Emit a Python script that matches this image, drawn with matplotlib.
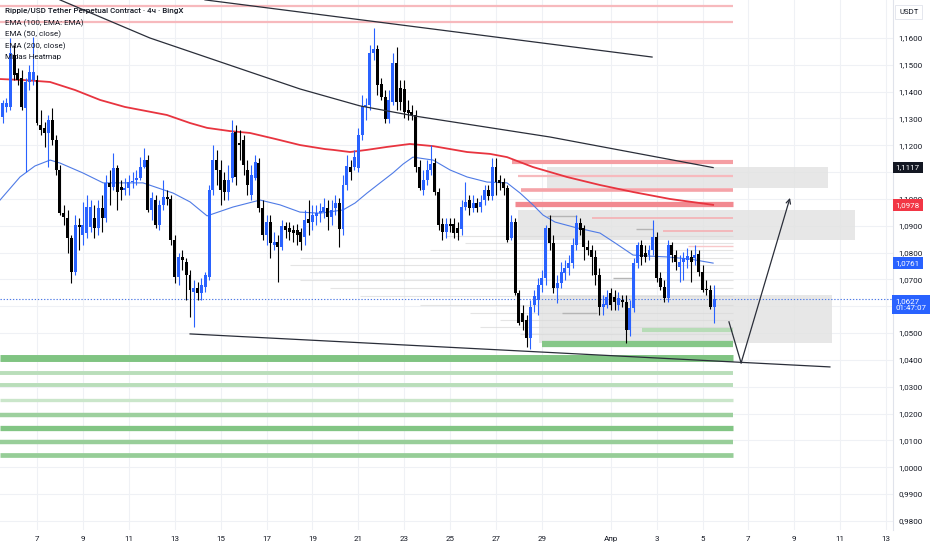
import matplotlib
matplotlib.use("Agg")
import matplotlib.pyplot as plt
import numpy as np
from matplotlib.patches import Rectangle

plt.rcParams['font.family'] = ['Roboto', 'DejaVu Sans']

# ---------------- data ----------------
opens = [1.1306, 1.1343, 1.1343, 1.1537, 1.1470, 1.1451, 1.1339, 1.1436, 1.1443, 1.1443,
         1.1276, 1.1265, 1.1246, 1.1294, 1.1220, 1.1108, 1.0948, 1.0929, 1.0855, 1.0728,
         1.0903, 1.0866, 1.0873, 1.0896, 1.0929, 1.0892, 1.0966, 1.0929, 1.1060, 1.1045,
         1.1115, 1.1045, 1.1033, 1.1041, 1.1063, 1.1071, 1.1078, 1.1119, 1.1145, 1.0959,
         1.0996, 1.0903, 1.0978, 1.1007, 1.1000, 1.0847, 1.0709, 1.0784, 1.0765, 1.0717,
         1.0653, 1.0668, 1.0650, 1.0672, 1.0709, 1.1033, 1.1145, 1.1108, 1.1071, 1.1026,
         1.1078, 1.1250, 1.1209, 1.1220, 1.1108, 1.1015, 1.1078, 1.1134, 1.0966, 1.0866,
         1.0914, 1.0828, 1.0840, 1.0821, 1.0899, 1.0892, 1.0884, 1.0884, 1.0877, 1.0858,
         1.0925, 1.0914, 1.0937, 1.0948, 1.0951, 1.0966, 1.0933, 1.0966, 1.0985, 1.0888,
         1.1052, 1.1119, 1.1119, 1.1115, 1.1238, 1.1343, 1.1350, 1.1544, 1.1559, 1.1429,
         1.1380, 1.1298, 1.1361, 1.1507, 1.1414, 1.1410, 1.1332, 1.1324, 1.1313, 1.1119,
         1.1033, 1.1071, 1.1108, 1.1134, 1.1026, 1.0907, 1.0877, 1.0907, 1.0907, 1.0892,
         1.0888, 1.0970, 1.0996, 1.0966, 1.0985, 1.0970, 1.0996, 1.1033, 1.1011, 1.1119,
         1.1071, 1.1063, 1.1041, 1.0855, 1.0914, 1.0650, 1.0575, 1.0549, 1.0482, 1.0605,
         1.0623, 1.0679, 1.0705, 1.0892, 1.0836, 1.0668, 1.0687, 1.0724, 1.0743, 1.0761,
         1.0828, 1.0910, 1.0892, 1.0821, 1.0810, 1.0784, 1.0717, 1.0597, 1.0605, 1.0650,
         1.0635, 1.0605, 1.0623, 1.0616, 1.0512, 1.0594, 1.0761, 1.0828, 1.0799, 1.0791,
         1.0810, 1.0858, 1.0705, 1.0672, 1.0631, 1.0828, 1.0791, 1.0746, 1.0765, 1.0773,
         1.0784, 1.0780, 1.0795, 1.0728, 1.0664, 1.0661, 1.0597]
highs = [1.1369, 1.1376, 1.1600, 1.1574, 1.1488, 1.1481, 1.1451, 1.1500, 1.1604, 1.1462,
         1.1332, 1.1287, 1.1313, 1.1339, 1.1238, 1.1127, 1.0978, 1.0959, 1.0866, 1.0940,
         1.0929, 1.0989, 1.1015, 1.0996, 1.0978, 1.0996, 1.1015, 1.1089, 1.1108, 1.1171,
         1.1127, 1.1071, 1.1078, 1.1089, 1.1101, 1.1108, 1.1156, 1.1190, 1.1164, 1.1026,
         1.1015, 1.0996, 1.1071, 1.1033, 1.1015, 1.0866, 1.0799, 1.0810, 1.0780, 1.0735,
         1.0698, 1.0690, 1.0705, 1.0728, 1.1052, 1.1201, 1.1183, 1.1145, 1.1101, 1.1127,
         1.1294, 1.1276, 1.1257, 1.1238, 1.1145, 1.1127, 1.1164, 1.1153, 1.0996, 1.0940,
         1.0940, 1.0877, 1.0866, 1.0922, 1.0914, 1.0914, 1.0903, 1.0907, 1.0892, 1.0959,
         1.0996, 1.0978, 1.0978, 1.0985, 1.1004, 1.0996, 1.0996, 1.1015, 1.1004, 1.1089,
         1.1164, 1.1145, 1.1183, 1.1265, 1.1388, 1.1376, 1.1574, 1.1637, 1.1574, 1.1451,
         1.1406, 1.1406, 1.1544, 1.1567, 1.1443, 1.1443, 1.1369, 1.1350, 1.1332, 1.1145,
         1.1108, 1.1145, 1.1201, 1.1153, 1.1041, 1.0929, 1.0929, 1.0929, 1.0929, 1.0914,
         1.0996, 1.1063, 1.1015, 1.1015, 1.1004, 1.1015, 1.1052, 1.1052, 1.1153, 1.1153,
         1.1089, 1.1078, 1.1052, 1.0940, 1.0929, 1.0661, 1.0605, 1.0568, 1.0623, 1.0661,
         1.0705, 1.0735, 1.0903, 1.0940, 1.0866, 1.0717, 1.0765, 1.0773, 1.0791, 1.0855,
         1.0940, 1.0929, 1.0903, 1.0847, 1.0828, 1.0810, 1.0743, 1.0642, 1.0661, 1.0668,
         1.0661, 1.0653, 1.0642, 1.0642, 1.0623, 1.0780, 1.0840, 1.0847, 1.0828, 1.0828,
         1.0922, 1.0877, 1.0728, 1.0698, 1.0847, 1.0840, 1.0810, 1.0791, 1.0802, 1.0817,
         1.0810, 1.0828, 1.0810, 1.0754, 1.0698, 1.0679, 1.0679]
lows = [1.1283, 1.1324, 1.1332, 1.1443, 1.1425, 1.1332, 1.1101, 1.1406, 1.1425, 1.1276,
        1.1238, 1.1194, 1.1119, 1.1201, 1.1089, 1.0940, 1.0903, 1.0799, 1.0687, 1.0717,
        1.0810, 1.0828, 1.0855, 1.0877, 1.0855, 1.0866, 1.0877, 1.0914, 1.0978, 1.1033,
        1.0959, 1.0996, 1.1015, 1.1015, 1.1041, 1.1052, 1.1071, 1.1115, 1.0951, 1.0922,
        1.0892, 1.0884, 1.0959, 1.0978, 1.0828, 1.0687, 1.0679, 1.0735, 1.0623, 1.0560,
        1.0523, 1.0623, 1.0623, 1.0653, 1.0698, 1.1015, 1.1052, 1.0978, 1.0996, 1.0996,
        1.1063, 1.1052, 1.1145, 1.1089, 1.1015, 1.0996, 1.1071, 1.0951, 1.0847, 1.0828,
        1.0780, 1.0810, 1.0691, 1.0810, 1.0855, 1.0847, 1.0840, 1.0828, 1.0810, 1.0828,
        1.0866, 1.0884, 1.0903, 1.0914, 1.0929, 1.0884, 1.0903, 1.0940, 1.0821, 1.0866,
        1.1033, 1.1071, 1.1108, 1.1101, 1.1220, 1.1294, 1.1332, 1.1518, 1.1388, 1.1369,
        1.1283, 1.1283, 1.1350, 1.1332, 1.1332, 1.1302, 1.1294, 1.1294, 1.1101, 1.1033,
        1.1015, 1.1052, 1.1089, 1.1015, 1.0884, 1.0847, 1.0855, 1.0877, 1.0855, 1.0847,
        1.0866, 1.0959, 1.0940, 1.0951, 1.0951, 1.0951, 1.0978, 1.0996, 1.0996, 1.1015,
        1.1033, 1.1015, 1.0840, 1.0847, 1.0642, 1.0530, 1.0512, 1.0448, 1.0441, 1.0579,
        1.0568, 1.0653, 1.0679, 1.0810, 1.0650, 1.0612, 1.0668, 1.0698, 1.0717, 1.0743,
        1.0810, 1.0866, 1.0773, 1.0791, 1.0717, 1.0679, 1.0568, 1.0568, 1.0594, 1.0586,
        1.0586, 1.0586, 1.0597, 1.0463, 1.0490, 1.0579, 1.0743, 1.0754, 1.0765, 1.0773,
        1.0791, 1.0691, 1.0661, 1.0616, 1.0616, 1.0765, 1.0735, 1.0691, 1.0698, 1.0743,
        1.0691, 1.0754, 1.0713, 1.0653, 1.0642, 1.0590, 1.0538]
closes = [1.1358, 1.1358, 1.1544, 1.1462, 1.1443, 1.1343, 1.1436, 1.1473, 1.1473, 1.1283,
          1.1257, 1.1246, 1.1294, 1.1220, 1.1108, 1.0948, 1.0933, 1.0855, 1.0728, 1.0903,
          1.0896, 1.0903, 1.0970, 1.0970, 1.0892, 1.0966, 1.0929, 1.1060, 1.1045, 1.1115,
          1.1026, 1.1033, 1.1041, 1.1063, 1.1067, 1.1078, 1.1119, 1.1145, 1.0959, 1.1004,
          1.0903, 1.0978, 1.1007, 1.1000, 1.0847, 1.0709, 1.0784, 1.0773, 1.0717, 1.0661,
          1.0668, 1.0650, 1.0679, 1.0717, 1.1033, 1.1145, 1.1108, 1.1033, 1.1026, 1.1071,
          1.1246, 1.1082, 1.1201, 1.1127, 1.1052, 1.1089, 1.1138, 1.0966, 1.0866, 1.0914,
          1.0836, 1.0840, 1.0821, 1.0899, 1.0884, 1.0877, 1.0873, 1.0866, 1.0840, 1.0922,
          1.0910, 1.0940, 1.0948, 1.0955, 1.0970, 1.0933, 1.0959, 1.0985, 1.0888, 1.1052,
          1.1123, 1.1101, 1.1156, 1.1238, 1.1347, 1.1350, 1.1544, 1.1559, 1.1425, 1.1380,
          1.1298, 1.1369, 1.1507, 1.1361, 1.1361, 1.1324, 1.1320, 1.1313, 1.1119, 1.1041,
          1.1071, 1.1108, 1.1130, 1.1026, 1.0903, 1.0877, 1.0907, 1.0899, 1.0873, 1.0873,
          1.0970, 1.0989, 1.0966, 1.0985, 1.0966, 1.0989, 1.1033, 1.1011, 1.1119, 1.1063,
          1.1060, 1.1041, 1.0847, 1.0914, 1.0650, 1.0538, 1.0541, 1.0482, 1.0597, 1.0638,
          1.0679, 1.0705, 1.0892, 1.0836, 1.0668, 1.0687, 1.0728, 1.0743, 1.0761, 1.0828,
          1.0910, 1.0884, 1.0821, 1.0810, 1.0784, 1.0717, 1.0597, 1.0609, 1.0635, 1.0605,
          1.0616, 1.0631, 1.0616, 1.0512, 1.0594, 1.0761, 1.0828, 1.0784, 1.0784, 1.0810,
          1.0858, 1.0705, 1.0672, 1.0631, 1.0828, 1.0791, 1.0765, 1.0765, 1.0780, 1.0787,
          1.0765, 1.0791, 1.0728, 1.0661, 1.0661, 1.0597, 1.0627]

first_candle_day = 5.5          # day-of-March of first 4h candle (Mar 5, 12:00)
candle_step = 1.0 / 6.0         # 4 hours in days

# EMA curves (day, price)
ema200_days = [5.39, 6.48, 7.57, 8.66, 9.75, 10.83, 12.66, 13.67, 14.41, 15.41, 16.28,
               17.37, 18.46, 19.55, 19.90, 20.64, 21.38, 22.25, 23.25, 24.26, 25.74, 26.74,
               27.48, 28.61, 30.09, 31.53, 32.97, 34.58, 36.46]
ema200_vals = [1.1447, 1.1443, 1.1436, 1.1406, 1.1369, 1.1343, 1.1313, 1.1283, 1.1265, 1.1253,
               1.1246, 1.1224, 1.1201, 1.1186, 1.1183, 1.1175, 1.1183, 1.1194, 1.1205, 1.1197,
               1.1175, 1.1168, 1.1156, 1.1119, 1.1082, 1.1052, 1.1026, 1.1000, 1.0978]
ema50_days = [5.39, 6.26, 6.91, 7.57, 8.00, 9.00, 9.88, 11.62, 12.93, 13.67, 14.41, 15.54,
              16.72, 17.59, 18.46, 19.33, 20.33, 20.86, 21.38, 21.95, 22.51, 22.95, 23.38,
              24.26, 25.00, 25.74, 26.61, 27.48, 28.05, 28.61, 29.05, 29.57, 30.53, 31.53,
              32.19, 32.97, 33.71, 34.45, 35.45, 36.46]
ema50_vals = [1.0996, 1.1082, 1.1123, 1.1145, 1.1134, 1.1097, 1.1060, 1.1060, 1.1022, 1.0989,
              1.0937, 1.0970, 1.0996, 1.0978, 1.0951, 1.0947, 1.0959, 1.0985, 1.1022, 1.1060,
              1.1097, 1.1130, 1.1156, 1.1145, 1.1108, 1.1082, 1.1063, 1.1060, 1.1022, 1.0978,
              1.0940, 1.0914, 1.0892, 1.0873, 1.0836, 1.0791, 1.0787, 1.0784, 1.0776, 1.0761]

# drawn trend lines (day, price)
upper_curve_days = [8.00, 11.92, 16.15, 18.46, 21.07, 23.47, 29.35, 36.46]
upper_curve_vals = [1.1742, 1.1600, 1.1477, 1.1410, 1.1347, 1.1309, 1.1231, 1.1117]
top_line_days = [14.32, 33.80]
top_line_vals = [1.1742, 1.1529]
bottom_line_days = [13.67, 41.55]
bottom_line_vals = [1.0497, 1.0374]
path_days = [37.15, 37.68, 39.81]
path_vals = [1.0542, 1.0389, 1.1004]

# grey zones (day_left, day_right, price_low, price_high)
zone_left = [29.22, 27.96, 28.87]
zone_right = [41.47, 42.64, 41.64]
zone_low = [1.1041, 1.0847, 1.0463]
zone_high = [1.1119, 1.0959, 1.0642]

heat_end_day = 37.33
# red liquidity levels
red_levels = [1.1719, 1.1660, 1.1138, 1.1086, 1.1033, 1.0981, 1.0929, 1.0881, 1.0825]
red_starts = [5.39, 5.39, 27.70, 27.96, 28.10, 27.83, 31.18, 34.28, 35.37]
red_widths = [1.6, 1.6, 3.0, 1.6, 2.6, 3.8, 1.2, 1.2, 1.0]
red_colors = ['#f7b9bd', '#f7b9bd', '#f59ea3', '#f7b9bd', '#f5a3a8', '#f28990', '#f5b0b4',
              '#f5b0b4', '#f8c8ca']
# green liquidity levels
green_levels = [1.0512, 1.0460, 1.0409, 1.0353, 1.0305, 1.0249, 1.0195, 1.0145, 1.0094, 1.0044]
green_starts = [33.36, 29.00, 5.39, 5.39, 5.39, 5.39, 5.39, 5.39, 5.39, 5.39]
green_widths = [3.0, 4.5, 5.0, 2.8, 2.8, 2.4, 3.2, 3.8, 3.2, 3.4]
green_colors = ['#b7dcb7', '#86c788', '#80c482', '#b9deba', '#b9deba', '#cae6ca', '#9dd09e',
                '#82c584', '#98ce99', '#96cd97']
# faint grey heatmap levels
grey_levels = [1.0862, 1.0836, 1.0810, 1.0780, 1.0754, 1.0728, 1.0698, 1.0668, 1.0638,
               1.0605, 1.0575, 1.0549, 1.0523, 1.0497]
grey_starts = [24.78, 25.65, 24.12, 18.46, 18.02, 18.90, 18.46, 19.77, 21.07, 23.69, 25.87,
               27.17, 26.30, 28.05]
dark_grey_levels = [1.0937, 1.0888, 1.0705, 1.0575]
dark_grey_starts = [29.22, 33.10, 32.10, 29.88]
dark_grey_ends = [30.53, 33.84, 32.97, 31.40]

x_tick_days = [7, 9, 11, 13, 15, 17, 19, 21, 23, 25, 27, 29, 32, 34, 36, 38, 40, 42, 44]
x_tick_labels = ['7', '9', '11', '13', '15', '17', '19', '21', '23', '25', '27', '29',
                 'Апр', '3', '5', '7', '9', '11', '13']
y_ticks = [0.98, 0.99, 1.00, 1.01, 1.02, 1.03, 1.04, 1.05, 1.07, 1.08, 1.09, 1.10,
           1.12, 1.13, 1.14, 1.15, 1.16]
grid_prices = [0.98, 0.99, 1.00, 1.01, 1.02, 1.03, 1.04, 1.05, 1.06, 1.07, 1.08, 1.09,
               1.10, 1.11, 1.12, 1.13, 1.14, 1.15, 1.16]

last_price = 1.0627
countdown = '01:47:07'
legend_lines = ['Ripple/USD Tether Perpetual Contract · 4ч · BingX', 'EMA (100, EMA: EMA)',
                'EMA (50, close)', 'EMA (200, close)', 'Midas Heatmap']

# ---------------- drawing ----------------
UP = '#2962ff'
DOWN = '#000000'
LINE = '#2a2e39'
TXT = '#131722'
FS = 5.8

fig = plt.figure(figsize=(9.32, 5.5), dpi=100)
fig.patch.set_facecolor('white')
ax = fig.add_axes([0, 20 / 550, 893 / 932, 530 / 550])
ax.set_xlim(5.388, 44.298)
ax.set_ylim(0.97662, 1.17416)

# grid
for d in x_tick_days:
    ax.axvline(d, color='#eff1f5', lw=0.8, zorder=0)
for p in grid_prices:
    ax.axhline(p, color='#eff1f5', lw=0.8, zorder=0)

# grey zones
for l, r, lo, hi in zip(zone_left, zone_right, zone_low, zone_high):
    ax.add_patch(Rectangle((l, lo), r - l, hi - lo, facecolor='#e3e3e3', edgecolor='none',
                           alpha=0.85, zorder=1))

# heatmap levels
for lv, st in zip(grey_levels, grey_starts):
    ax.hlines(lv, st, heat_end_day, color='#d9d9d9', lw=0.8, alpha=0.7, zorder=1.2)
for lv, st, en in zip(dark_grey_levels, dark_grey_starts, dark_grey_ends):
    ax.hlines(lv, st, en, color='#b5b5b5', lw=1.0, zorder=1.3)
for lv, st, w, c in zip(red_levels, red_starts, red_widths, red_colors):
    ax.hlines(lv, st, heat_end_day, color=c, lw=w, zorder=1.5)
for lv, st, w, c in zip(green_levels, green_starts, green_widths, green_colors):
    ax.hlines(lv, st, heat_end_day, color=c, lw=w, zorder=1.5)

# EMAs
ax.plot(ema200_days, ema200_vals, color='#e8343f', lw=1.3, zorder=3,
        solid_joinstyle='round')
ax.plot(ema50_days, ema50_vals, color='#4f7be6', lw=0.8, zorder=3, solid_joinstyle='round')

# candles
o = np.array(opens); h = np.array(highs); l = np.array(lows); c = np.array(closes)
t = first_candle_day + np.arange(len(c)) * candle_step
up = c >= o
cols = np.where(up, UP, DOWN)
ax.vlines(t, l, h, colors=cols, lw=0.8, zorder=4)
body_lo = np.minimum(o, c)
body_h = np.maximum(np.abs(c - o), 0.0003)
ax.bar(t, body_h, bottom=body_lo, width=0.13, color=cols, edgecolor='none', zorder=4.5)

# last price dotted line
ax.axhline(last_price, color='#4f7be6', lw=0.8, ls=(0, (1.2, 1.6)), zorder=3.5)

# trend lines
ax.plot(upper_curve_days, upper_curve_vals, color=LINE, lw=0.9, zorder=5)
ax.plot(top_line_days, top_line_vals, color=LINE, lw=0.9, zorder=5)
ax.plot(bottom_line_days, bottom_line_vals, color=LINE, lw=0.9, zorder=5)
ax.plot(path_days[:2], path_vals[:2], color=LINE, lw=0.9, zorder=5)
ax.annotate('', xy=(path_days[2], path_vals[2]), xytext=(path_days[1], path_vals[1]),
            arrowprops=dict(arrowstyle='->', color=LINE, lw=0.9, shrinkA=0, shrinkB=0,
                            mutation_scale=8), zorder=5)

# axes styling
for s in ['top', 'left', 'bottom']:
    ax.spines[s].set_visible(False)
ax.spines['right'].set_color('#e0e3eb')
ax.spines['right'].set_linewidth(0.8)
ax.yaxis.tick_right()
ax.set_yticks(y_ticks)
ax.set_yticklabels([f'{v:.4f}'.replace('.', ',') for v in y_ticks])
ax.set_xticks(x_tick_days)
ax.set_xticklabels(x_tick_labels)
ax.tick_params(axis='y', length=0, pad=4, labelsize=FS, labelcolor=TXT)
ax.tick_params(axis='x', length=0, pad=4, labelsize=FS, labelcolor=TXT)
for lab in ax.get_yticklabels():
    lab.set_horizontalalignment('left')

# legend texts
ys = [0.979, 0.957, 0.935, 0.913, 0.892]
for i, (txt, yy) in enumerate(zip(legend_lines, ys)):
    ax.text(0.006, yy, txt, transform=ax.transAxes, fontsize=FS, color=TXT,
            fontweight='medium' if i == 0 else 'normal', va='center', ha='left', zorder=8)

# price labels on scale
ytr = ax.get_yaxis_transform()
def price_tag(price, text, fc):
    ax.text(1.003, price, text, transform=ytr, fontsize=FS, color='white', va='center',
            ha='left', zorder=10, clip_on=False,
            bbox=dict(boxstyle='square,pad=0.35', fc=fc, ec='none'))

price_tag(upper_curve_vals[-1], f'{upper_curve_vals[-1]:.4f}'.replace('.', ','), '#131722')
price_tag(ema200_vals[-1], f'{ema200_vals[-1]:.4f}'.replace('.', ','), '#f23645')
price_tag(ema50_vals[-1], f'{ema50_vals[-1]:.4f}'.replace('.', ','), UP)
ax.text(1.003, last_price + 0.0004, f'{last_price:.4f}'.replace('.', ',') + '\n' + countdown,
        transform=ytr, fontsize=FS, color='white', va='top', ha='left', zorder=10,
        clip_on=False, linespacing=1.25,
        bbox=dict(boxstyle='square,pad=0.4', fc=UP, ec='none'))

fig.text(899 / 932, 1 - 12 / 550, 'USDT', fontsize=5.6, color=TXT, va='center', ha='left',
         bbox=dict(boxstyle='square,pad=0.5', fc='white', ec='#e0e3eb', lw=0.6))

fig.savefig('out.png', dpi=100, facecolor='white')
